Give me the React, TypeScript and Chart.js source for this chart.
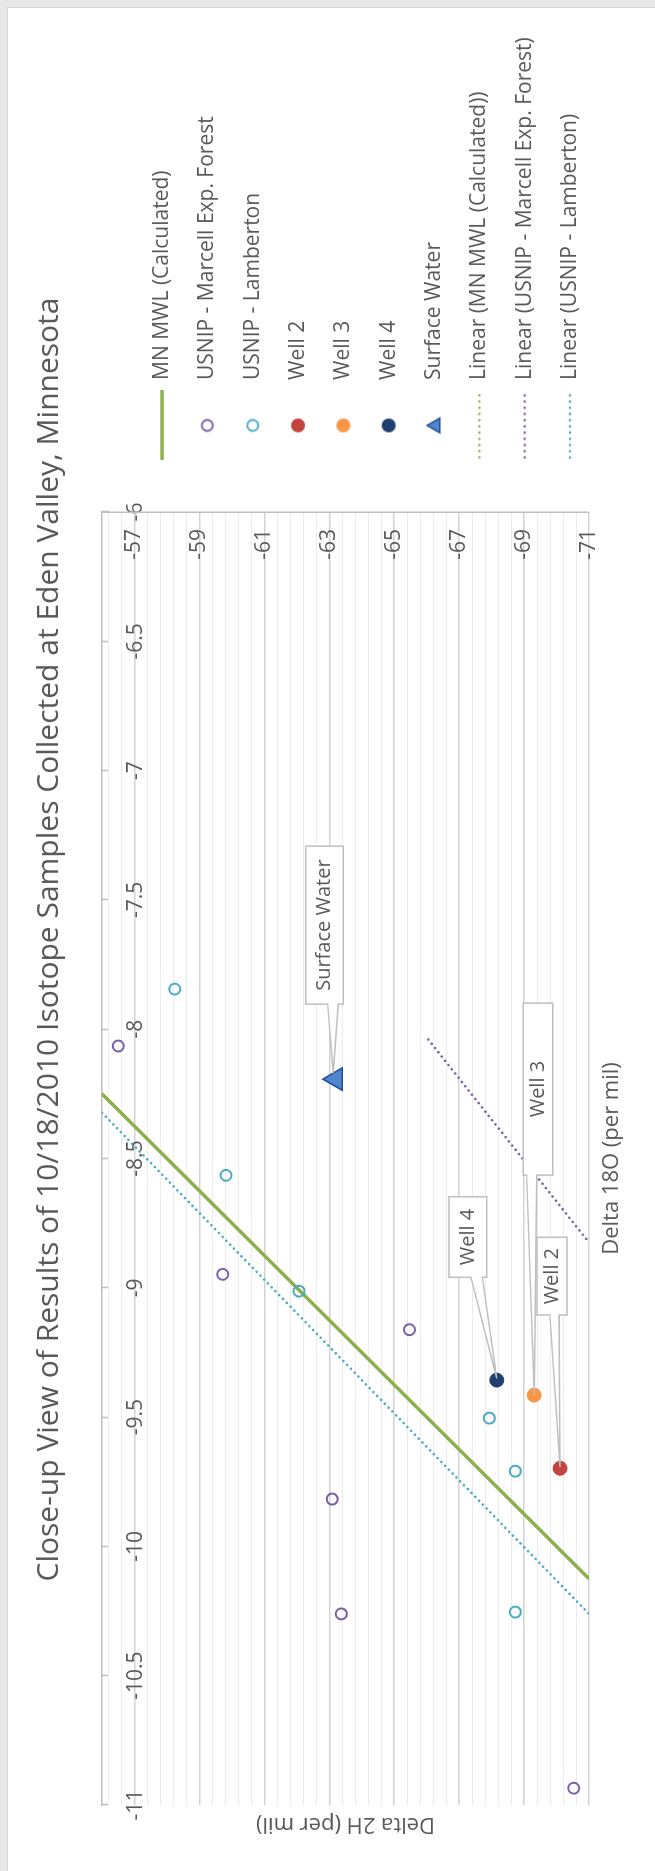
import React, { useEffect, useRef } from 'react';
import { Chart, registerables } from 'chart.js';

Chart.register(...registerables);

const FONT = "'Open Sans', sans-serif";
const TEXT = '#595959';

const chartTitle = 'Close-up View of Results of 10/18/2010 Isotope Samples Collected at Eden Valley, Minnesota';
const xAxisTitle = 'Delta 18O (per mil)';
const yAxisTitle = 'Delta 2H (per mil)';

// axes
const d18ORange = [-11, -6];
const d2HRange = [-71, -56];
const d18OTicks = [-11, -10.5, -10, -9.5, -9, -8.5, -8, -7.5, -7, -6.5, -6];
const d2HMajorTicks = [-71, -69, -67, -65, -63, -61, -59, -57];
const d2HMinorStep = 0.4;

// series (x = Delta 18O, y = Delta 2H)
const marcellD18O = [-8.065, -8.948, -9.162, -9.817, -10.261, -10.935];
const marcellD2H = [-56.5, -59.72, -65.47, -63.09, -63.37, -70.53];
const lambertonD18O = [-7.845, -8.565, -9.013, -9.504, -9.709, -10.254];
const lambertonD2H = [-58.24, -59.82, -62.07, -67.93, -68.73, -68.73];
const well2D18O = [-9.698];
const well2D2H = [-70.11];
const well3D18O = [-9.415];
const well3D2H = [-69.31];
const well4D18O = [-9.357];
const well4D2H = [-68.16];
const surfaceD18O = [-8.193];
const surfaceD2H = [-63.2];
const mwlD18O = [-8.25, -10.125];
const mwlD2H = [-56, -71];
const marcellTrendD18O = [-8.04, -8.825];
const marcellTrendD2H = [-66.05, -71];
const lambertonTrendD18O = [-8.323, -10.261];
const lambertonTrendD2H = [-56, -71];

const legendOrder = [
  'MN MWL (Calculated)',
  'USNIP - Marcell Exp. Forest',
  'USNIP - Lamberton',
  'Well 2',
  'Well 3',
  'Well 4',
  'Surface Water',
  'Linear (MN MWL (Calculated))',
  'Linear (USNIP - Marcell Exp. Forest)',
  'Linear (USNIP - Lamberton)',
];

const COL = {
  green: '#8db04f',
  purple: '#7b5ea6',
  teal: '#4aabc4',
  red: '#c4443f',
  orange: '#f79646',
  navy: '#1f3f70',
  triFill: '#4f86cc',
  triBorder: '#21509b',
};

// callout geometry (pixel offsets from the point)
const callouts = [
  { series: 'Well 2', box: [153.3, 231, -23.2, 6.8], wedge: [-10.2, -1.2], tip: [1.3, 0] },
  { series: 'Well 3', box: [220, 392, -10.9, 18.5], wedge: [-7.5, 2.5], tip: [0, 0] },
  { series: 'Well 4', box: [102.8, 183.4, -47.8, -10.1], wedge: [-25.8, -14.5], tip: [1.8, 0] },
  { series: 'Surface Water', box: [75, 233, -30.1, 7.5], wedge: [-8.1, 2.5], tip: [6, -2.5] },
];

const W = 1863;
const H = 647;
const LEGEND_LEFT = 1386.2;
const LEGEND_TOP = 119.2;

const pts = (xs: number[], ys: number[]) => xs.map((x, i) => ({ x, y: ys[i] }));
const isMajor = (v: number) => d2HMajorTicks.some((m) => Math.abs(m - v) < 1e-6);

function lineSym(color: string, dotted: boolean) {
  const c = document.createElement('canvas');
  c.width = 70;
  c.height = 8;
  const g = c.getContext('2d')!;
  g.strokeStyle = color;
  if (dotted) {
    g.lineWidth = 2.6;
    g.lineCap = 'round';
    g.setLineDash([0.01, 6.2]);
    g.beginPath();
    g.moveTo(3, 4);
    g.lineTo(68, 4);
    g.stroke();
  } else {
    g.lineWidth = 3.5;
    g.beginPath();
    g.moveTo(0, 4);
    g.lineTo(70, 4);
    g.stroke();
  }
  return c;
}

function circleSym(color: string, filled: boolean) {
  const c = document.createElement('canvas');
  c.width = 18;
  c.height = 18;
  const g = c.getContext('2d')!;
  g.beginPath();
  g.arc(9, 9, filled ? 7 : 5.5, 0, Math.PI * 2);
  if (filled) {
    g.fillStyle = color;
    g.fill();
  } else {
    g.strokeStyle = color;
    g.lineWidth = 2;
    g.stroke();
  }
  return c;
}

function triSym() {
  const c = document.createElement('canvas');
  c.width = 20;
  c.height = 20;
  const g = c.getContext('2d')!;
  const r = 8.5;
  g.beginPath();
  for (let k = 0; k < 3; k++) {
    const a = (k * 2 * Math.PI) / 3;
    const px = 10 + Math.sin(a) * r;
    const py = 11.5 - Math.cos(a) * r;
    if (k === 0) g.moveTo(px, py);
    else g.lineTo(px, py);
  }
  g.closePath();
  g.fillStyle = COL.triFill;
  g.fill();
  g.strokeStyle = COL.triBorder;
  g.lineWidth = 1.5;
  g.stroke();
  return c;
}

const legendPlace = {
  id: 'legendPlace',
  afterLayout(chart: any) {
    const lg = chart.legend;
    if (!lg) return;
    lg.left = LEGEND_LEFT;
    lg.right = W;
    lg.width = W - LEGEND_LEFT;
    lg.top = LEGEND_TOP;
    lg.bottom = H;
    lg.height = H - LEGEND_TOP;
  },
};

const calloutPlugin = {
  id: 'callouts',
  afterDatasetsDraw(chart: any) {
    const ctx = chart.ctx;
    callouts.forEach((c) => {
      const idx = chart.data.datasets.findIndex((d: any) => d.label === c.series);
      if (idx < 0) return;
      const el = chart.getDatasetMeta(idx).data[0];
      if (!el) return;
      const px = el.x;
      const py = el.y;
      const l = px + c.box[0];
      const r = px + c.box[1];
      const t = py + c.box[2];
      const b = py + c.box[3];
      ctx.save();
      ctx.beginPath();
      ctx.moveTo(l, t);
      ctx.lineTo(r, t);
      ctx.lineTo(r, b);
      ctx.lineTo(l, b);
      ctx.lineTo(l, py + c.wedge[1]);
      ctx.lineTo(px + c.tip[0], py + c.tip[1]);
      ctx.lineTo(l, py + c.wedge[0]);
      ctx.closePath();
      ctx.fillStyle = '#ffffff';
      ctx.fill();
      ctx.strokeStyle = '#bfbfbf';
      ctx.lineWidth = 1.5;
      ctx.stroke();
      ctx.fillStyle = TEXT;
      ctx.font = `20px ${FONT}`;
      ctx.textAlign = 'center';
      ctx.textBaseline = 'middle';
      ctx.fillText(c.series, (l + r) / 2, (t + b) / 2);
      ctx.restore();
    });
  },
};

export default function App() {
  const ref = useRef<HTMLCanvasElement | null>(null);

  useEffect(() => {
    if (!ref.current) return;
    const symbols: Record<string, any> = {
      'MN MWL (Calculated)': lineSym(COL.green, false),
      'USNIP - Marcell Exp. Forest': circleSym(COL.purple, false),
      'USNIP - Lamberton': circleSym(COL.teal, false),
      'Well 2': circleSym(COL.red, true),
      'Well 3': circleSym(COL.orange, true),
      'Well 4': circleSym(COL.navy, true),
      'Surface Water': triSym(),
      'Linear (MN MWL (Calculated))': lineSym(COL.green, true),
      'Linear (USNIP - Marcell Exp. Forest)': lineSym(COL.purple, true),
      'Linear (USNIP - Lamberton)': lineSym(COL.teal, true),
    };

    const dotted = (label: string, color: string, xs: number[], ys: number[]) => ({
      label,
      data: pts(xs, ys),
      showLine: true,
      borderColor: color,
      backgroundColor: color,
      borderWidth: 2.6,
      borderDash: [0.01, 5.4],
      borderCapStyle: 'round',
      pointRadius: 0,
      xAxisID: 'x',
      yAxisID: 'y',
    });

    const chart = new Chart(ref.current, {
      type: 'scatter',
      data: {
        datasets: [
          {
            label: 'Well 4',
            data: pts(well4D18O, well4D2H),
            pointStyle: 'circle',
            pointRadius: 7,
            backgroundColor: COL.navy,
            borderColor: COL.navy,
            borderWidth: 1,
            xAxisID: 'x',
            yAxisID: 'y',
          },
          {
            label: 'Well 3',
            data: pts(well3D18O, well3D2H),
            pointStyle: 'circle',
            pointRadius: 7,
            backgroundColor: COL.orange,
            borderColor: COL.orange,
            borderWidth: 1,
            xAxisID: 'x',
            yAxisID: 'y',
          },
          {
            label: 'Well 2',
            data: pts(well2D18O, well2D2H),
            pointStyle: 'circle',
            pointRadius: 7,
            backgroundColor: COL.red,
            borderColor: COL.red,
            borderWidth: 1,
            xAxisID: 'x',
            yAxisID: 'y',
          },
          {
            label: 'Surface Water',
            data: pts(surfaceD18O, surfaceD2H),
            pointStyle: 'triangle',
            pointRadius: 13,
            backgroundColor: COL.triFill,
            borderColor: COL.triBorder,
            borderWidth: 1.5,
            xAxisID: 'x',
            yAxisID: 'y',
          },
          {
            label: 'USNIP - Marcell Exp. Forest',
            data: pts(marcellD18O, marcellD2H),
            pointStyle: 'circle',
            pointRadius: 5.5,
            backgroundColor: 'rgba(0,0,0,0)',
            borderColor: COL.purple,
            borderWidth: 2,
            xAxisID: 'x',
            yAxisID: 'y',
          },
          {
            label: 'USNIP - Lamberton',
            data: pts(lambertonD18O, lambertonD2H),
            pointStyle: 'circle',
            pointRadius: 5.5,
            backgroundColor: 'rgba(0,0,0,0)',
            borderColor: COL.teal,
            borderWidth: 2,
            xAxisID: 'x',
            yAxisID: 'y',
          },
          {
            label: 'MN MWL (Calculated)',
            data: pts(mwlD18O, mwlD2H),
            showLine: true,
            borderColor: COL.green,
            backgroundColor: COL.green,
            borderWidth: 3.5,
            pointRadius: 0,
            xAxisID: 'x',
            yAxisID: 'y',
          },
          dotted('Linear (MN MWL (Calculated))', COL.green, mwlD18O, mwlD2H),
          dotted('Linear (USNIP - Marcell Exp. Forest)', COL.purple, marcellTrendD18O, marcellTrendD2H),
          dotted('Linear (USNIP - Lamberton)', COL.teal, lambertonTrendD18O, lambertonTrendD2H),
        ] as any,
      },
      options: {
        responsive: false,
        animation: false,
        devicePixelRatio: 1,
        events: [],
        layout: { padding: 0 },
        plugins: {
          tooltip: { enabled: false },
          title: {
            display: true,
            text: chartTitle,
            color: TEXT,
            font: { family: FONT, size: 30, weight: 'normal' },
            padding: { top: 23.6, bottom: 0 },
          },
          legend: {
            display: true,
            position: 'right',
            align: 'start',
            maxWidth: 200,
            labels: {
              usePointStyle: true,
              pointStyleWidth: 70,
              padding: 24.33,
              color: TEXT,
              font: { family: FONT, size: 21 },
              generateLabels: () =>
                legendOrder.map((name, i) => ({
                  text: name,
                  pointStyle: symbols[name],
                  fillStyle: 'rgba(0,0,0,0)',
                  strokeStyle: 'rgba(0,0,0,0)',
                  lineWidth: 0,
                  hidden: false,
                  fontColor: TEXT,
                  datasetIndex: i,
                })),
            },
          },
        },
        scales: {
          x: {
            type: 'linear',
            position: 'top',
            min: d18ORange[0],
            max: d18ORange[1],
            afterBuildTicks: (s: any) => {
              s.ticks = d18OTicks.map((value) => ({ value }));
            },
            afterFit: (s: any) => {
              s.height = 34.4;
            },
            grid: {
              drawOnChartArea: false,
              drawTicks: true,
              tickLength: -7,
              tickColor: '#bfbfbf',
              tickWidth: 1.5,
            },
            border: { display: true, color: '#bfbfbf', width: 1.5 },
            ticks: {
              mirror: true,
              padding: 21,
              color: TEXT,
              font: { family: FONT, size: 21 },
              maxRotation: 0,
              minRotation: 0,
              autoSkip: false,
              callback: (v: any) => String(v),
            },
          },
          x2: {
            type: 'linear',
            position: 'bottom',
            min: d18ORange[0],
            max: d18ORange[1],
            ticks: { display: false },
            grid: { display: false },
            border: { display: false },
            afterFit: (s: any) => {
              s.height = 66;
            },
            title: {
              display: true,
              text: xAxisTitle,
              color: TEXT,
              font: { family: FONT, size: 22 },
              padding: { top: 0, bottom: 30.2 },
            },
          },
          y: {
            type: 'linear',
            position: 'right',
            min: d2HRange[0],
            max: d2HRange[1],
            afterBuildTicks: (s: any) => {
              const vals: number[] = [];
              for (let v = d2HRange[0]; v <= d2HRange[1] + 1e-9; v += d2HMinorStep) {
                vals.push(Math.round(v * 10) / 10);
              }
              s.ticks = vals.map((value) => ({ value }));
            },
            afterFit: (s: any) => {
              s.width = 304;
            },
            grid: {
              drawTicks: false,
              color: (c: any) => (c.tick && isMajor(c.tick.value) ? '#d3d3d3' : '#ececec'),
              lineWidth: (c: any) => (c.tick && isMajor(c.tick.value) ? 1.5 : 1),
            },
            border: { display: true, color: '#bfbfbf', width: 1.5 },
            ticks: {
              mirror: true,
              padding: -17,
              color: TEXT,
              font: { family: FONT, size: 21 },
              autoSkip: false,
              callback: (v: any) => (isMajor(Number(v)) ? String(v) : ''),
            },
          },
          y2: {
            type: 'linear',
            position: 'left',
            min: d2HRange[0],
            max: d2HRange[1],
            ticks: { display: false },
            grid: { display: false },
            border: { display: false },
            afterFit: (s: any) => {
              s.width = 66;
            },
            title: {
              display: true,
              text: yAxisTitle,
              color: TEXT,
              font: { family: FONT, size: 22 },
              padding: { top: 33.3, bottom: 0 },
            },
          },
        },
      } as any,
      plugins: [legendPlace, calloutPlugin] as any,
    });
    return () => chart.destroy();
  }, []);

  return (
    <div
      style={{
        position: 'absolute',
        left: 0,
        top: 0,
        width: 655,
        height: 1871,
        background: '#e7e7e7',
        overflow: 'hidden',
      }}
    >
      <div
        style={{
          position: 'absolute',
          left: 7,
          top: 7,
          width: 660,
          height: 1880,
          background: '#ffffff',
          border: '1px solid #d4d4d4',
          boxSizing: 'border-box',
        }}
      />
      <div
        style={{
          position: 'absolute',
          left: 8,
          top: 8 + W,
          width: W,
          height: H,
          transform: 'rotate(-90deg)',
          transformOrigin: '0 0',
        }}
      >
        <canvas ref={ref} width={W} height={H} style={{ display: 'block', width: W, height: H }} />
      </div>
    </div>
  );
}
